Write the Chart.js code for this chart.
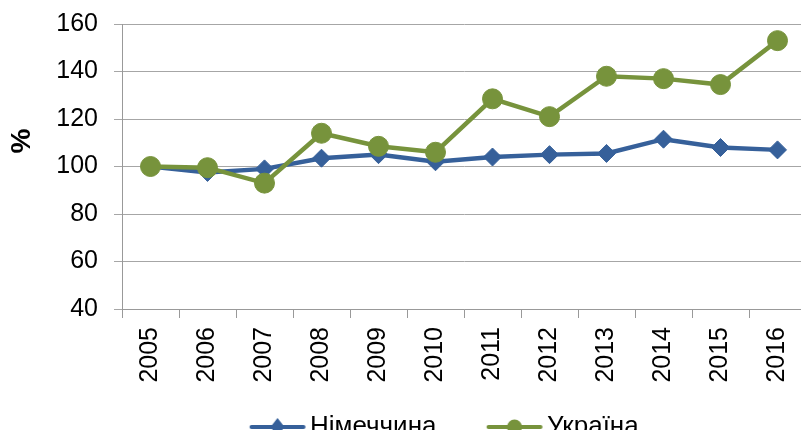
<!DOCTYPE html>
<html>
<head>
<meta charset="utf-8">
<script src="https://cdn.jsdelivr.net/npm/chart.js@4"></script>
<style>
  html, body { margin: 0; padding: 0; background: #fff; overflow: hidden; }
  #wrap { width: 806px; height: 430px; }
</style>
</head>
<body>
<div id="wrap"><canvas id="chart" width="806" height="430"></canvas></div>
<script>
// дані з графіка
const years = ["2005", "2006", "2007", "2008", "2009", "2010", "2011", "2012", "2013", "2014", "2015", "2016"];
const germany = [100, 97.5, 99, 103.5, 105, 102, 104, 105, 105.5, 111.5, 108, 107];
const ukraine = [100, 99.5, 93, 114, 108.5, 106, 128.5, 121, 138, 137, 134.5, 153];
const yTicks = [40, 60, 80, 100, 120, 140, 160];
const seriesNames = ["Німеччина", "Україна"];

const blue = "#36609a";
const green = "#77933c";
const font = "'Liberation Sans', Arial, sans-serif";
const fontSize = 25;
const legendSize = 26;

// розміщення легенди: міряємо підписи, щоб поставити їх як на оригіналі
const legendGap = 12;
const m = document.createElement("canvas").getContext("2d");
m.font = legendSize + "px " + font;
const t1 = m.measureText(seriesNames[0]).width;
const t2 = m.measureText(seriesNames[1]).width;
const padLeft = 2 * 310 - 806 + legendGap + t1 + t2;
const boxW = 547 - 310 - t1 - legendGap - legendSize / 2;

// картинка для легенди: лінія з маркером посередині
function legendSample(color, shape) {
    const half = Math.max(boxW / 2 + 8.5, 47.5 - boxW / 2) + 2;
    const c = document.createElement("canvas");
    c.width = Math.ceil(half * 2);
    c.height = 22;
    const right = c.width / 2 + boxW / 2 + 8.5;
    const left = right - 56;
    const mid = (left + right) / 2;
    const g = c.getContext("2d");
    g.strokeStyle = color;
    g.fillStyle = color;
    g.lineWidth = 4;
    g.lineCap = "round";
    g.beginPath();
    g.moveTo(left + 2, 11);
    g.lineTo(right - 2, 11);
    g.stroke();
    g.beginPath();
    if (shape === "diamond") {
        g.moveTo(mid, 2);
        g.lineTo(mid + 7, 11);
        g.lineTo(mid, 20);
        g.lineTo(mid - 7, 11);
        g.closePath();
    } else {
        g.arc(mid, 11, 7.5, 0, Math.PI * 2);
    }
    g.fill();
    return c;
}
const samples = [legendSample(blue, "diamond"), legendSample(green, "circle")];

// підпис осі Y
const yTitle = {
    id: "yTitle",
    afterDraw(chart) {
        const ctx = chart.ctx;
        ctx.save();
        ctx.translate(22, 141);
        ctx.rotate(-Math.PI / 2);
        ctx.font = "bold 28px " + font;
        ctx.fillStyle = "#000";
        ctx.textAlign = "center";
        ctx.textBaseline = "middle";
        ctx.fillText("%", 0, 0);
        ctx.restore();
    }
};

const ctx = document.getElementById("chart").getContext("2d");

new Chart(ctx, {
    type: "line",
    data: {
        labels: years,
        datasets: [{
            label: seriesNames[0],
            data: germany,
            borderColor: blue,
            backgroundColor: blue,
            borderWidth: 4.5,
            pointStyle: "rectRot",
            pointRadius: 9,
            pointHoverRadius: 9,
            pointBorderWidth: 1,
            tension: 0,
            order: 2
        }, {
            label: seriesNames[1],
            data: ukraine,
            borderColor: green,
            backgroundColor: green,
            borderWidth: 4.5,
            pointStyle: "circle",
            pointRadius: 10,
            pointHoverRadius: 10,
            pointBorderWidth: 1,
            tension: 0,
            order: 1
        }]
    },
    options: {
        responsive: false,
        animation: false,
        layout: {
            autoPadding: false,
            padding: { left: padLeft, right: 0, top: 24, bottom: -20 }
        },
        scales: {
            x: {
                offset: true,
                grid: {
                    offset: true,
                    drawOnChartArea: false,
                    drawTicks: true,
                    tickLength: 9,
                    color: "#999"
                },
                border: { color: "#999", width: 1 },
                ticks: {
                    minRotation: 90,
                    maxRotation: 90,
                    padding: 9,
                    color: "#000",
                    font: { family: font, size: fontSize }
                },
                afterFit(scale) {
                    scale.height = 93;
                    scale.paddingLeft = 0;
                    scale.paddingRight = 0;
                }
            },
            y: {
                min: 40,
                max: 160,
                afterBuildTicks(scale) { scale.ticks = yTicks.map(v => ({ value: v })); },
                grid: {
                    color: "#a6a6a6",
                    tickLength: 8,
                    drawTicks: true
                },
                border: { color: "#999", width: 1 },
                ticks: {
                    padding: 16,
                    color: "#000",
                    font: { family: font, size: fontSize }
                },
                afterFit(scale) {
                    scale.width = 122 - padLeft;
                    scale.paddingTop = 0;
                    scale.paddingBottom = 0;
                }
            }
        },
        plugins: {
            legend: {
                position: "bottom",
                labels: {
                    usePointStyle: true,
                    pointStyleWidth: boxW,
                    boxHeight: 22,
                    padding: legendGap,
                    color: "#000",
                    font: { family: font, size: legendSize },
                    generateLabels(chart) {
                        return chart.data.datasets.map((ds, i) => ({
                            text: ds.label,
                            pointStyle: samples[i],
                            fillStyle: ds.borderColor,
                            strokeStyle: ds.borderColor,
                            lineWidth: 0,
                            hidden: false,
                            datasetIndex: i
                        }));
                    }
                }
            },
            tooltip: { enabled: false }
        }
    },
    plugins: [yTitle]
});
</script>
</body>
</html>
